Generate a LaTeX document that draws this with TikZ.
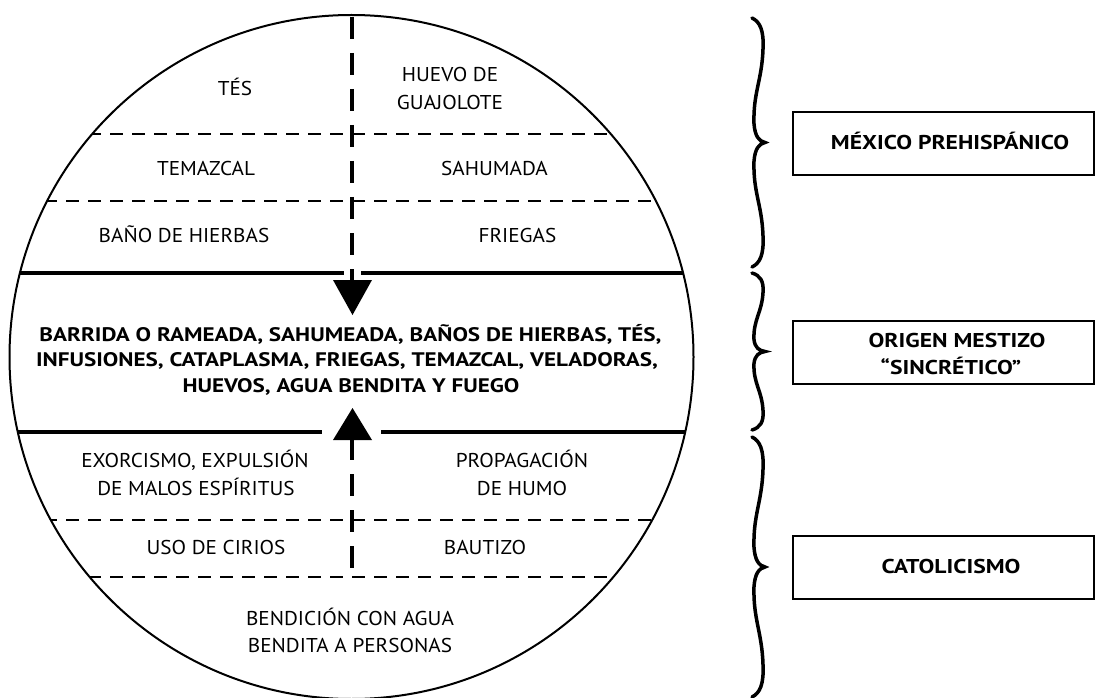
\documentclass[tikz,border=0pt]{standalone}
\usepackage{fontspec}
\setmainfont{PT Sans}
\newfontfamily\regf{PT Sans}[FakeStretch=1.06]
\newfontfamily\bolf{PT Sans}[FakeStretch=1.18]
\newcommand\brc[2]{%
 \pgfmathsetmacro\bT{#1}\pgfmathsetmacro\bB{#2}%
 \pgfmathsetmacro\bh{(\bB-\bT)/2}\pgfmathsetmacro\bM{(\bB+\bT)/2}%
 \draw[bracestyle] (752,\bT) .. controls (760,{\bT+0.03*\bh}) and (764,{\bT+0.1*\bh}) .. (763,{\bT+0.25*\bh})
  .. controls (762,{\bT+0.5*\bh}) and (753,{\bT+0.6*\bh}) .. (754,{\bT+0.85*\bh})
  .. controls (755,{\bT+0.95*\bh}) and (759,{\bM-0.01*\bh}) .. (765,\bM)
  .. controls (759,{\bM+0.01*\bh}) and (755,{\bB-0.95*\bh}) .. (754,{\bB-0.85*\bh})
  .. controls (753,{\bB-0.6*\bh}) and (762,{\bB-0.5*\bh}) .. (763,{\bB-0.25*\bh})
  .. controls (764,{\bB-0.1*\bh}) and (760,{\bB-0.03*\bh}) .. (752,\bB);}
\begin{document}
\begin{tikzpicture}[x=1pt,y=-1pt,
  lbl/.style={font=\regf\fontsize{20}{24}\selectfont, anchor=base, inner sep=0pt},
  mid/.style={font=\bolf\bfseries\fontsize{19.6}{24}\selectfont, anchor=base, inner sep=0pt},
  boxlbl/.style={font=\bolf\bfseries\fontsize{20}{24}\selectfont, anchor=base, inner sep=0pt},
  thindash/.style={line width=2pt, dash pattern=on 13pt off 9pt},
  thickdash/.style={line width=4pt, dash pattern=on 22pt off 14pt},
  solidline/.style={line width=4pt},
  boxst/.style={draw, line width=2pt, rectangle, minimum width=301pt, minimum height=63pt, inner sep=0pt},
  bracestyle/.style={line width=3.5pt, line cap=round},
]
\useasboundingbox (0,0) rectangle (1096,698);
\fill[white] (0,0) rectangle (1096,698);
\coordinate (C) at (351.5,357);
\begin{scope}
  \clip (C) circle[radius=342];
  \draw[thindash] (0,134) -- (700,134);
  \draw[thindash] (0,201) -- (700,201);
  \draw[thindash] (0,520) -- (700,520);
  \draw[thindash] (0,577) -- (700,577);
  \draw[solidline] (0,273) -- (344,273);
  \draw[solidline] (361,273) -- (700,273);
  \draw[solidline] (0,432) -- (322,432);
  \draw[solidline] (381,432) -- (700,432);
\end{scope}
\draw[line width=2pt] (C) circle[radius=342];
% arrows
\coordinate (ctop) at (352,17);
\coordinate (dstem) at (352,284);
\coordinate (ustem) at (352,438);
\coordinate (ubot) at (352,577);
\draw[thickdash] (ctop) -- (dstem);
\fill (333,280) -- (372,280) -- (352.5,315) -- cycle;
\fill (333,440) -- (372,440) -- (352.5,408) -- cycle;
\draw[thickdash] (ustem) -- (ubot);
% labels top
\node[lbl] (t1) at (235,96) {TÉS};
\node[lbl] (t2a) at (450,82) {HUEVO DE};
\node[lbl] (t2b) at (450,110) {GUAJOLOTE};
\node[lbl] (t3) at (206,176) {TEMAZCAL};
\node[lbl] (t4) at (494.5,176) {SAHUMADA};
\node[lbl] (t5) at (184,242) {BAÑO DE HIERBAS};
\node[lbl] (t6) at (517.5,242) {FRIEGAS};
% middle
\node[mid] (m1) at (350.5,341) {BARRIDA O RAMEADA, SAHUMEADA, BAÑOS DE HIERBAS, TÉS,};
\node[mid] (m2) at (347,366.5) {INFUSIONES, CATAPLASMA, FRIEGAS, TEMAZCAL, VELADORAS,};
\node[mid] (m3) at (351,392) {HUEVOS, AGUA BENDITA Y FUEGO};
% bottom
\node[lbl] (b1a) at (195,467) {EXORCISMO, EXPULSIÓN};
\node[lbl] (b1b) at (196,495) {DE MALOS ESPÍRITUS};
\node[lbl] (b2a) at (522,467) {PROPAGACIÓN};
\node[lbl] (b2b) at (522,495) {DE HUMO};
\node[lbl] (b3) at (216,554) {USO DE CIRIOS};
\node[lbl] (b4) at (485,554) {BAUTIZO};
\node[lbl] (b5a) at (350,625) {BENDICIÓN CON AGUA};
\node[lbl] (b5b) at (350,652) {BENDITA A PERSONAS};
% braces
\brc{18}{267}
\brc{273}{430}
\brc{437}{697}
% boxes
\node[boxst] (box1) at (943.5,143.5) {};
\node[boxst] (box2) at (943.5,352.5) {};
\node[boxst] (box3) at (943.5,567.5) {};
\node[boxlbl] (k1) at (950,150) {MÉXICO PREHISPÁNICO};
\node[boxlbl] (k2a) at (957,347) {ORIGEN MESTIZO};
\node[boxlbl] (k2b) at (951,374) {“SINCRÉTICO”};
\node[boxlbl] (k3) at (951,573) {CATOLICISMO};
\end{tikzpicture}
\end{document}
